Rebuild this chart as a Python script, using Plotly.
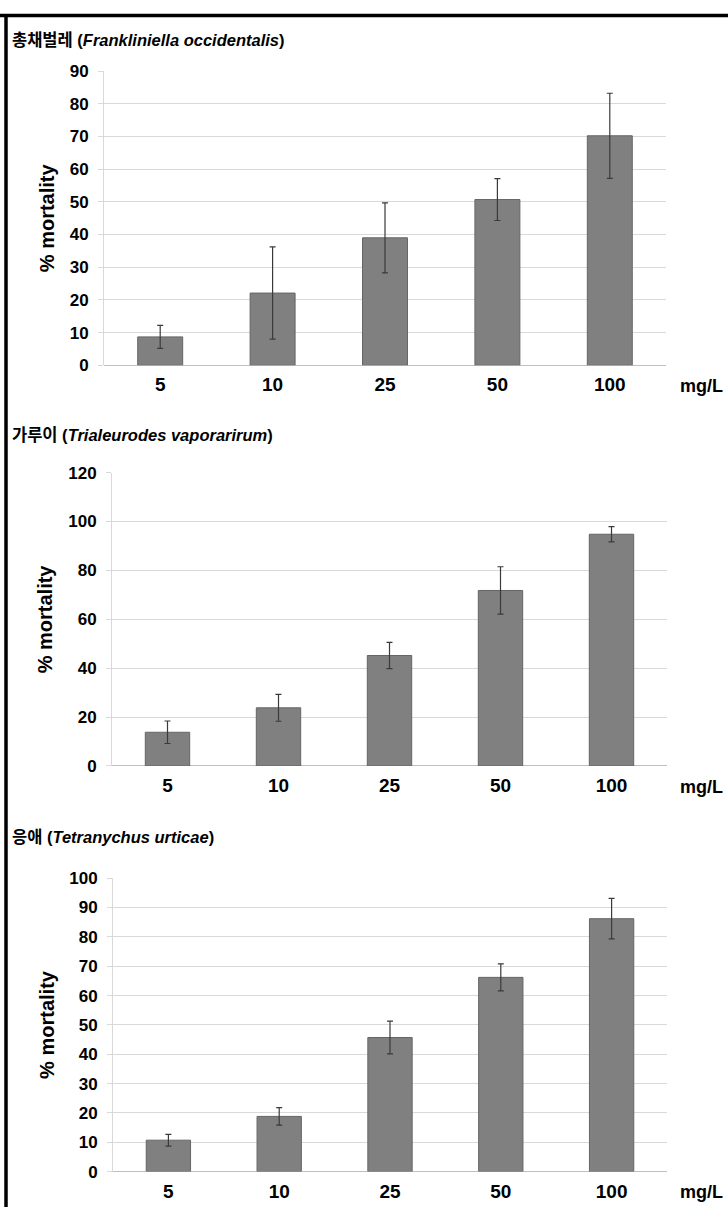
import plotly.graph_objects as go

W, H = 728, 1217

concentrations = ["5", "10", "25", "50", "100"]

titles = [
    "총채벌레 (<i>Frankliniella occidentalis</i>)",
    "가루이 (<i>Trialeurodes vaporarirum</i>)",
    "응애 (<i>Tetranychus urticae</i>)",
]

thrips_mortality = [8.7, 22.1, 39.0, 50.7, 70.2]
thrips_error = [3.5, 14.1, 10.7, 6.4, 13.0]

whitefly_mortality = [13.8, 23.8, 45.2, 71.8, 94.8]
whitefly_error = [4.6, 5.5, 5.4, 9.7, 3.1]

mite_mortality = [10.7, 18.8, 45.7, 66.2, 86.2]
mite_error = [2.0, 3.0, 5.6, 4.6, 6.9]

y_max = [90, 120, 100]
y_step = [10, 20, 10]

series = [
    (thrips_mortality, thrips_error),
    (whitefly_mortality, whitefly_error),
    (mite_mortality, mite_error),
]

# pixel layout for each panel: (x_left, x_right, y_top, y_bottom, title_y, ytitle_x)
panels_px = [
    (104, 666, 63, 362, 31, 47),
    (112, 667, 471, 769, 433, 45),
    (113, 667, 883, 1181, 841, 47),
]

FONT = "Liberation Sans, Arial, sans-serif"
KFONT = "Liberation Sans, Arial, Noto Sans CJK KR, sans-serif"

def px_x(x):
    return x / W

def px_y(y):
    return 1 - y / H

fig = go.Figure()
annotations = []
shapes = []

for i, ((vals, errs), (xl, xr, yt, yb, ty, tx)) in enumerate(zip(series, panels_px)):
    n = "" if i == 0 else str(i + 1)
    fig.add_trace(go.Bar(
        x=concentrations, y=vals,
        xaxis="x" + n, yaxis="y" + n,
        marker=dict(color="#808080", line=dict(color="#656565", width=1)),
        error_y=dict(type="data", array=errs, visible=True,
                     color="#3a3a3a", thickness=1.2, width=3),
        showlegend=False,
    ))
    xa = dict(
        domain=[px_x(xl), px_x(xr)], anchor="y" + n,
        type="category", showgrid=False, zeroline=False,
        showline=False, ticks="",
        tickfont=dict(family=FONT, size=19, color="#000000", weight="bold"),
        ticklabelstandoff=6,
    )
    ya = dict(
        domain=[px_y(yb), px_y(yt)], anchor="x" + n,
        range=[0, y_max[i]], dtick=y_step[i], tick0=0,
        showgrid=True, gridcolor="#d9d9d9", gridwidth=1,
        zeroline=True, zerolinecolor="#bfbfbf", zerolinewidth=1,
        showline=True, linecolor="#d9d9d9", linewidth=1,
        ticks="outside", ticklen=5, tickcolor="#d9d9d9",
        tickfont=dict(family=FONT, size=17, color="#000000", weight="bold"),
        ticklabelstandoff=6,
    )
    fig.layout["xaxis" + n] = xa
    fig.layout["yaxis" + n] = ya

    # panel title
    annotations.append(dict(
        text=titles[i], x=px_x(10), y=px_y(ty), xref="paper", yref="paper",
        xanchor="left", yanchor="middle", showarrow=False,
        font=dict(family=KFONT, size=16.5, color="#000000", weight="bold"),
    ))
    # y-axis title
    annotations.append(dict(
        text="% mortality", x=px_x(tx), y=px_y((yt + yb) / 2),
        xref="paper", yref="paper", xanchor="center", yanchor="middle",
        textangle=-90, showarrow=False,
        font=dict(family=FONT, size=20, color="#000000", weight="bold"),
    ))
    # unit label
    annotations.append(dict(
        text="mg/L", x=px_x(678), y=px_y(yb + 21), xref="paper", yref="paper",
        xanchor="left", yanchor="middle", showarrow=False,
        font=dict(family=FONT, size=18, color="#000000", weight="bold"),
    ))

# frame lines (top and left)
shapes.append(dict(type="line", xref="paper", yref="paper",
                   x0=0, x1=1, y0=px_y(6.5), y1=px_y(6.5),
                   line=dict(color="#000000", width=3.5)))
shapes.append(dict(type="line", xref="paper", yref="paper",
                   x0=px_x(6), x1=px_x(6), y0=0, y1=px_y(5),
                   line=dict(color="#000000", width=3.5)))

fig.update_layout(
    width=W, height=H, autosize=False,
    margin=dict(l=0, r=0, t=0, b=0),
    paper_bgcolor="#ffffff", plot_bgcolor="#ffffff",
    bargap=0.6,
    annotations=annotations, shapes=shapes,
)

fig.write_html("out.html",
               config={"displayModeBar": False},
               post_script="document.body.style.margin='0';document.body.style.overflow='hidden';")
